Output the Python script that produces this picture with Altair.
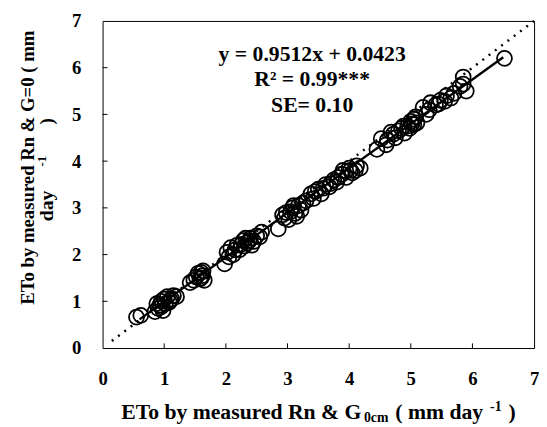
import altair as alt
import pandas as pd

# measured points (x: ETo by measured Rn & G0cm, y: ETo by measured Rn & G=0)
xs = [0.55, 0.62, 0.85, 0.88, 0.90, 0.93, 0.95, 0.98, 1.00, 1.02, 1.05, 1.10, 1.15, 1.20,
      1.42, 1.48, 1.52, 1.58, 1.60, 1.62, 1.63, 1.65,
      1.98, 2.02, 2.08, 2.12, 2.18, 2.22, 2.28, 2.30, 2.35, 2.40, 2.45, 2.50, 2.58,
      2.85, 2.92, 2.98, 3.02, 3.08, 3.12, 3.18, 3.22, 3.30,
      3.38, 3.42, 3.50, 3.55, 3.62, 3.68, 3.75, 3.80, 3.88, 3.95, 4.00, 4.05, 4.12, 4.18,
      4.45, 4.52, 4.60, 4.68, 4.75, 4.80, 4.85, 4.90, 4.95, 5.00, 5.02, 5.05, 5.10,
      5.20, 5.25, 5.32, 5.40, 5.48, 5.58, 5.65, 5.80, 5.85, 5.90, 6.52,
      0.95, 1.08, 1.12, 1.55, 1.60, 2.05, 2.15, 2.25, 2.32, 2.42, 2.38, 2.55,
      2.95, 3.05, 3.10, 3.15, 3.25, 3.45, 3.58, 3.70, 3.82, 3.90, 4.02, 4.10,
      4.62, 4.72, 4.88, 4.98, 5.05, 5.08, 5.30, 5.45, 5.55, 5.70, 5.85]
ys = [0.66, 0.70, 0.78, 0.95, 0.85, 0.92, 1.00, 0.80, 1.05, 0.95, 1.10, 1.02, 1.12, 1.10,
      1.40, 1.45, 1.52, 1.48, 1.62, 1.55, 1.65, 1.45,
      1.80, 2.05, 2.15, 2.00, 2.20, 2.10, 2.30, 2.18, 2.25, 2.35, 2.28, 2.40, 2.48,
      2.55, 2.85, 2.90, 2.75, 3.00, 2.88, 3.05, 2.95, 3.15,
      3.30, 3.20, 3.40, 3.30, 3.50, 3.45, 3.60, 3.55, 3.72, 3.65, 3.85, 3.75, 3.90, 3.85,
      4.25, 4.48, 4.35, 4.62, 4.50, 4.65, 4.70, 4.60, 4.75, 4.85, 4.80, 4.90, 4.82,
      5.15, 5.00, 5.25, 5.20, 5.30, 5.40, 5.35, 5.60, 5.80, 5.50, 6.20,
      0.88, 0.98, 1.05, 1.60, 1.50, 1.95, 2.10, 2.22, 2.35, 2.20, 2.30, 2.38,
      2.78, 2.92, 3.05, 2.82, 3.10, 3.35, 3.42, 3.52, 3.65, 3.80, 3.80, 3.80,
      4.45, 4.58, 4.75, 4.70, 4.78, 4.95, 5.10, 5.22, 5.28, 5.45, 5.65]

slope = 0.9512
intercept = 0.0423
fit_x = [0.6, 6.5]
oneone_x = [0.15, 7.0]
ticks = [0, 1, 2, 3, 4, 5, 6, 7]
inner_ticks = [1, 2, 3, 4, 5, 6]

ann_text = ["y = 0.9512x + 0.0423", "R\u00b2 = 0.99***", "SE= 0.10"]
ann_x = [3.40, 3.40, 3.40]
ann_y = [6.29, 5.76, 5.19]

FONT = "Liberation Serif"

pts = pd.DataFrame({"x": xs, "y": ys})
fit = pd.DataFrame({"x": fit_x, "y": [slope * v + intercept for v in fit_x]})
one = pd.DataFrame({"x": oneone_x, "y": oneone_x})
ann = pd.DataFrame({"x": ann_x, "y": ann_y, "t": ann_text})
xt = pd.DataFrame({"v": inner_ticks, "z": [0] * 6, "h": [0.1] * 6})
yt = pd.DataFrame({"v": inner_ticks, "z": [0] * 6, "h": [0.08] * 6})

xscale = alt.Scale(domain=[0, 7], nice=False, zero=False)
yscale = alt.Scale(domain=[0, 7], nice=False, zero=False)

xaxis = alt.Axis(values=ticks, format="d", grid=False, ticks=False, tickSize=0,
                 domain=False, labelFont=FONT, labelFontWeight="bold", labelFontSize=19,
                 labelColor="black", labelPadding=22, title=None, labelFlush=False)
yaxis = alt.Axis(values=ticks, format="d", grid=False, ticks=False, tickSize=0,
                 domain=False, labelFont=FONT, labelFontWeight="bold", labelFontSize=19,
                 labelColor="black", labelPadding=22, labelFlush=False,
                 labelBaseline="middle", title=None)

points = alt.Chart(pts).mark_point(shape="circle", filled=False, size=230,
                                   stroke="black", strokeWidth=1.8, opacity=1).encode(
    x=alt.X("x:Q", scale=xscale, axis=xaxis),
    y=alt.Y("y:Q", scale=yscale, axis=yaxis),
)

oneline = alt.Chart(one).mark_line(color="black", strokeWidth=2.5,
                                   strokeDash=[2, 6]).encode(
    x=alt.X("x:Q", scale=xscale), y=alt.Y("y:Q", scale=yscale))

fitline = alt.Chart(fit).mark_line(color="black", strokeWidth=2.4).encode(
    x=alt.X("x:Q", scale=xscale), y=alt.Y("y:Q", scale=yscale))

anno = alt.Chart(ann).mark_text(font=FONT, fontWeight="bold", fontSize=22,
                                color="black", align="center", baseline="middle").encode(
    x=alt.X("x:Q", scale=xscale), y=alt.Y("y:Q", scale=yscale), text="t:N")

xticks = alt.Chart(xt).mark_rule(color="black", strokeWidth=1).encode(
    x=alt.X("v:Q", scale=xscale), y=alt.Y("z:Q", scale=yscale), y2="h:Q")
yticks = alt.Chart(yt).mark_rule(color="black", strokeWidth=1).encode(
    y=alt.Y("v:Q", scale=yscale), x=alt.X("z:Q", scale=xscale), x2="h:Q")

# x-axis title built from parts (subscript / superscript)
TY = -1.52  # baseline position of the title, in data units
base = pd.DataFrame({"x": [0.0], "y": [TY]})
def part(text, dx, size, dy):
    return alt.Chart(base).mark_text(text=text, font=FONT, fontWeight="bold",
                                     fontSize=size, color="black", align="left",
                                     baseline="alphabetic", dx=dx, dy=dy, clip=False).encode(
        x=alt.X("x:Q", scale=xscale), y=alt.Y("y:Q", scale=yscale))

MAIN, SMALL = 22, 14
A_W = 11.195 * MAIN
B_W = 1.777 * SMALL
GAP = 7
C_W = 4.055 * MAIN
D_W = 0.833 * SMALL
x0 = 19
xB = x0 + A_W
xC = xB + B_W + GAP
xD = xC + C_W + GAP
xE = xD + D_W + GAP
xtitle = (part("ETo by measured Rn & G", x0, MAIN, 0)
          + part("0cm", xB, SMALL, 3)
          + part("( mm day", xC, MAIN, 0)
          + part("-1", xD, SMALL, -8)
          + part(")", xE, MAIN, 0))

# y-axis title (two rotated lines, second with superscript)
def vpart(text, xv, yv, size):
    d = pd.DataFrame({"x": [xv], "y": [yv]})
    return alt.Chart(d).mark_text(text=text, font=FONT, fontWeight="bold",
                                  fontSize=size, color="black", align="center",
                                  baseline="alphabetic", angle=270, clip=False).encode(
        x=alt.X("x:Q", scale=xscale), y=alt.Y("y:Q", scale=yscale))

ytitle = (vpart("ETo by measured Rn & G=0 ( mm", -1.12, 3.86, 19)
          + vpart("day", -0.81, 3.04, 20)
          + vpart("-1", -0.91, 4.0, 13)
          + vpart(")", -0.81, 4.85, 19))

chart = alt.layer(oneline, fitline, points, xticks, yticks, anno, xtitle, ytitle).properties(
    width=438, height=332,
    autosize=alt.AutoSizeParams(type="none"),
    padding={"left": 96, "top": 10, "right": 5, "bottom": 77},
    background="white",
).configure_view(stroke="black", strokeWidth=1)

chart.save("out.html", embed_options={"renderer": "svg", "actions": False})
